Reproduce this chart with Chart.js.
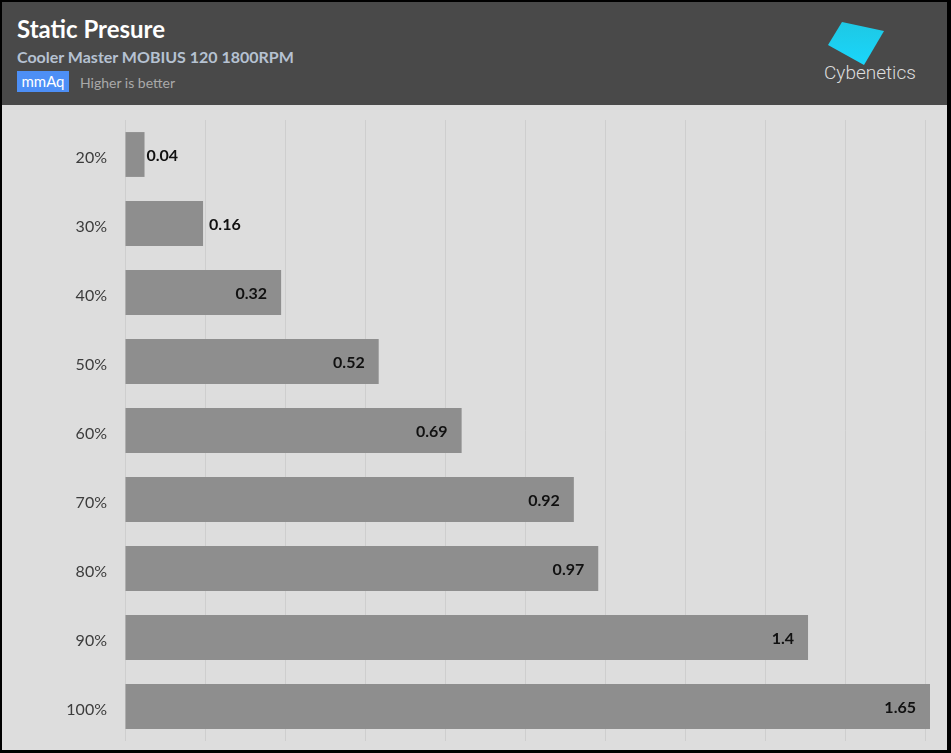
<!DOCTYPE html>
<html>
<head>
<meta charset="utf-8">
<title>Static Presure</title>
<script src="https://cdn.jsdelivr.net/npm/chart.js@4"></script>
<style>
  body { margin: 0; background: #000; font-family: Lato, sans-serif; }
  #frame { position: absolute; left: 2px; top: 2px; width: 945px; height: 748px; }
  #header { position: absolute; left: 0; top: 0; width: 945px; height: 103px; background: #494949; }
  #title { position: absolute; left: 15px; top: 12px; color: #fff; font-weight: bold; font-size: 24px; }
  #subtitle { position: absolute; left: 15px; top: 45px; color: #b6c2d2; font-weight: bold; font-size: 16px; }
  #unit { position: absolute; left: 15px; top: 69px; width: 52px; height: 21px; background: #4d8ff6; color: #fff;
          font-size: 15px; line-height: 21px; text-align: center; }
  #better { position: absolute; left: 78px; top: 70px; color: #a9a9a9; font-size: 14px; line-height: 21px; }
  #logo { position: absolute; left: 810px; top: 10px; }
  #chartBox { position: absolute; left: 0; top: 103px; width: 945px; height: 645px; background: #dddddd; }
</style>
</head>
<body>
<div id="frame">
  <div id="header">
    <div id="title">Static Presure</div>
    <div id="subtitle">Cooler Master MOBIUS 120 1800RPM</div>
    <div id="unit">mmAq</div>
    <div id="better">Higher is better</div>
    <svg id="logo" width="120" height="80">
      <defs>
        <linearGradient id="cyan" x1="0" y1="0" x2="0" y2="1">
          <stop offset="0" stop-color="#1ec8e4"/>
          <stop offset="1" stop-color="#1ad6fb"/>
        </linearGradient>
      </defs>
      <polygon points="30,10 72,19 52,53 16,33" fill="url(#cyan)"/>
      <text x="12" y="67" fill="#dcdcdc" font-family="Roboto, sans-serif" font-weight="300" font-size="19">Cybenetics</text>
    </svg>
  </div>
  <div id="chartBox"><canvas id="chart" width="945" height="645"></canvas></div>
</div>
<script>
// fan speed vs static pressure (mmAq)
const fanSpeeds = ["20%", "30%", "40%", "50%", "60%", "70%", "80%", "90%", "100%"];
const pressure = [0.04, 0.16, 0.32, 0.52, 0.69, 0.92, 0.97, 1.4, 1.65];
const axisMax = 1.65;
const gridStep = 0.164;

Chart.defaults.font.family = "Lato, sans-serif";

// value labels at the end of each bar
const valueLabels = {
  id: "valueLabels",
  afterDatasetsDraw(chart) {
    const ctx = chart.ctx;
    const meta = chart.getDatasetMeta(0);
    ctx.save();
    ctx.font = "bold 16px Lato, sans-serif";
    ctx.fillStyle = "#111";
    ctx.textBaseline = "middle";
    meta.data.forEach((bar, i) => {
      const txt = String(pressure[i]);
      const w = bar.x - bar.base;
      if (w > 100) {
        ctx.textAlign = "right";
        ctx.fillText(txt, bar.x - 14, bar.y + 1);
      } else {
        ctx.textAlign = "left";
        ctx.fillText(txt, bar.x + (w < 40 ? 2 : 6), bar.y + 1);
      }
    });
    ctx.restore();
  }
};

new Chart(document.getElementById("chart"), {
  type: "bar",
  data: {
    labels: fanSpeeds,
    datasets: [{
      data: pressure,
      backgroundColor: "#8e8e8e",
      barPercentage: 0.65,
      categoryPercentage: 1
    }]
  },
  options: {
    indexAxis: "y",
    responsive: false,
    animation: false,
    layout: { padding: { left: 0, right: 17, top: 15, bottom: 9 } },
    plugins: { legend: { display: false }, tooltip: { enabled: false } },
    scales: {
      x: {
        min: 0,
        max: axisMax,
        ticks: { display: false },
        afterBuildTicks(scale) {
          const t = [];
          for (let v = 0; v <= axisMax; v += gridStep) t.push({ value: v });
          scale.ticks = t;
        },
        afterFit(scale) { scale.height = 0; },
        grid: { color: "#cecece", drawTicks: false },
        border: { display: false }
      },
      y: {
        afterFit(scale) {
          scale.width = 123;
          scale.paddingTop = 0;
          scale.paddingBottom = 0;
        },
        ticks: { color: "#3c3c3c", font: { size: 16 }, padding: 18, labelOffset: 3 },
        grid: { display: false, drawTicks: false },
        border: { display: false }
      }
    }
  },
  plugins: [valueLabels]
});
</script>
</body>
</html>
